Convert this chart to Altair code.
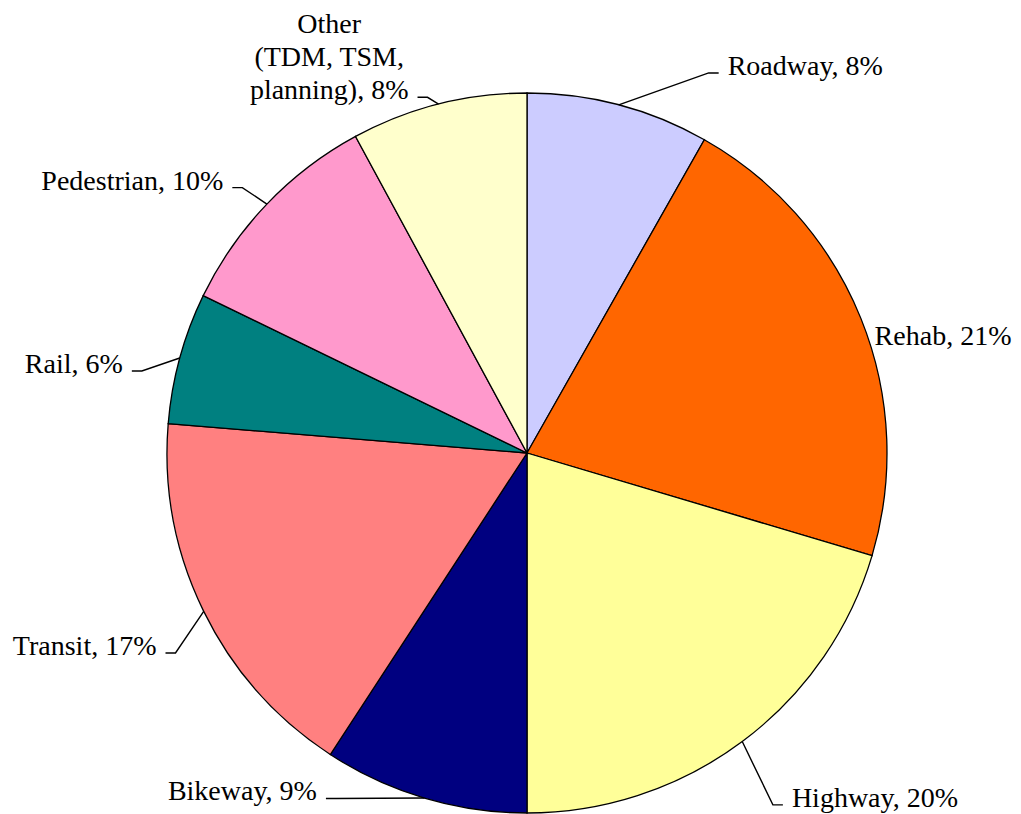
import math
import altair as alt
import pandas as pd

# ---------------- data ----------------
categories = ["Roadway", "Rehab", "Highway", "Bikeway", "Transit", "Rail", "Pedestrian", "Other"]
shares = [8.2, 21.4, 20.4, 9.2, 17.1, 5.9, 9.9, 7.9]
label_names = [["Roadway"], ["Rehab"], ["Highway"], ["Bikeway"], ["Transit"], ["Rail"],
               ["Pedestrian"], ["Other", "(TDM, TSM,", "planning)"]]
colors = ["#CCCCFF", "#FF6600", "#FFFF99", "#000080", "#FF8080", "#008080", "#FF99CC", "#FFFFCC"]

# ---------------- layout / style ----------------
W, H = 1005, 806
CX, CY = 519, 445
R = 360
FONT = "Liberation Serif"
FS = 28
LINE_H = 33
# label placement relative to each slice's mid-angle (degrees turned, distance from centre)
label_turn = [13.2, 4.7, -0.1, 14.6, -2.5, -4.1, -2.8, -4.3]
label_dist = [428, 364, 442, 406, 422, 412, 402, 373]

# Times metrics (per em) for estimating text widths
TW = {" ": .25, "(": .333, ")": .333, ",": .25, "%": .833, "O": .722, "T": .611, "D": .722,
      "M": .889, "S": .556, "t": .278, "h": .5, "e": .444, "r": .333, "p": .5, "l": .278,
      "a": .444, "n": .5, "i": .278, "g": .5}


def text_w(s):
    return sum(TW.get(ch, .5) for ch in s) * FS


total = sum(shares)
cum = 0.0
lead_rows, text_rows = [], []
for i, (cat, s) in enumerate(zip(categories, shares)):
    mid = (cum + s / 2) / total * 360.0
    cum += s
    lines = list(label_names[i])
    lines[-1] = f"{lines[-1]}, {round(s)}%"
    a0 = math.radians(mid)
    p0 = (CX + R * math.sin(a0), CY - R * math.cos(a0))
    a1 = math.radians(mid + label_turn[i])
    ax = CX + label_dist[i] * math.sin(a1)
    ay = CY - label_dist[i] * math.cos(a1)
    side = 1 if math.sin(a1) > 0 else -1
    n = len(lines)
    if n > 1:
        maxw = max(text_w(t) for t in lines)
        tx, al = ax + side * maxw / 2, "center"
    else:
        tx, al = ax, ("left" if side > 0 else "right")
    for j, t in enumerate(lines):
        text_rows.append({"category": cat, "line": t, "x": tx,
                          "y": ay - (n - 1 - j) * LINE_H, "align": al})
    ex, ey = ax - side * 19, ay - 2
    sx = ax - side * 9
    if math.hypot(ex - CX, ey - CY) > R + 4:
        for k, (x, y) in enumerate([p0, (ex, ey), (sx, ey)]):
            lead_rows.append({"category": cat, "k": k, "x": x, "y": y})

arc_df = pd.DataFrame({"category": categories, "share": shares, "idx": list(range(len(categories)))})
lead_df = pd.DataFrame(lead_rows)
text_df = pd.DataFrame(text_rows)

xs = alt.Scale(domain=[0, W], range=[0, W], nice=False, zero=False)
ys = alt.Scale(domain=[0, H], range=[0, H], nice=False, zero=False)

pie = alt.Chart(arc_df).mark_arc(outerRadius=R, stroke="black", strokeWidth=1.3).encode(
    theta=alt.Theta("share:Q", stack=True),
    order=alt.Order("idx:Q", sort="ascending"),
    color=alt.Color("category:N", scale=alt.Scale(domain=categories, range=colors), legend=None),
    x=alt.value(CX),
    y=alt.value(CY),
)

leaders = alt.Chart(lead_df).mark_line(color="black", strokeWidth=1.4).encode(
    x=alt.X("x:Q", scale=xs, axis=None),
    y=alt.Y("y:Q", scale=ys, axis=None),
    detail="category:N",
    order="k:Q",
)


def text_layer(al):
    return alt.Chart(text_df).transform_filter(alt.datum.align == al).mark_text(
        align=al, baseline="alphabetic", font=FONT, fontSize=FS, color="black"
    ).encode(
        x=alt.X("x:Q", scale=xs, axis=None),
        y=alt.Y("y:Q", scale=ys, axis=None),
        text="line:N",
    )


chart = alt.layer(pie, leaders, text_layer("left"), text_layer("right"), text_layer("center")).properties(
    width=W, height=H, padding=0, autosize="none", background="white"
).configure_view(stroke=None)

chart.save("out.html", embed_options={"renderer": "svg", "actions": False})
